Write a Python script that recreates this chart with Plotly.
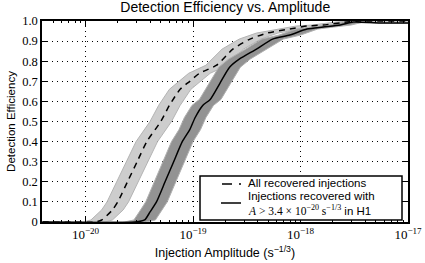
import numpy as np
import plotly.graph_objects as go

# ---- data (log10 amplitude, efficiency) ----
all_log_amp = [-20.40, -19.92, -19.85, -19.75, -19.70, -19.61, -19.52, -19.43, -19.30,
               -19.22, -19.12, -19.03, -18.94, -18.78, -18.63, -18.47, -18.31, -18.10,
               -17.94, -17.79, -17.57, -17.45, -17.00]
all_eff = [0.0, 0.0, 0.01, 0.06, 0.10, 0.20, 0.30, 0.40, 0.50,
           0.58, 0.66, 0.70, 0.74, 0.78, 0.86, 0.91, 0.94, 0.96,
           0.975, 0.98, 0.995, 1.0, 1.0]

h1_log_amp = [-20.40, -19.54, -19.45, -19.40, -19.34, -19.26, -19.18, -19.10, -19.03,
              -18.98, -18.91, -18.84, -18.75, -18.66, -18.57, -18.41, -18.26, -18.10,
              -17.94, -17.79, -17.63, -17.51, -17.26, -17.00]
h1_eff = [0.0, 0.0, 0.01, 0.05, 0.10, 0.20, 0.30, 0.40, 0.46,
          0.52, 0.58, 0.61, 0.69, 0.77, 0.81, 0.86, 0.91, 0.93,
          0.96, 0.97, 0.98, 0.995, 0.99, 0.99]

amp_uncertainty_dex = 0.10   # calibration uncertainty in amplitude (log10)

y_tick_vals = [0, 0.1, 0.2, 0.3, 0.4, 0.5, 0.6, 0.7, 0.8, 0.9, 1.0]
y_tick_text = ["0", "0.1", "0.2", "0.3", "0.4", "0.5", "0.6", "0.7", "0.8", "0.9", "1.0"]
x_tick_vals = [1e-20, 1e-19, 1e-18, 1e-17]
x_tick_text = ["10<sup>−20</sup>", "10<sup>−19</sup>", "10<sup>−18</sup>", "10<sup>−17</sup>"]

legend_all = "All recovered injections"
legend_h1_line1 = "Injections recovered with"
legend_h1_line2 = ("<span style=\"font-family:Liberation Serif\"><i>A</i> &gt; 3.4 × 10<sup>−20</sup> "
                   "s<sup>−1/3</sup></span> in H1")

SERIF = "Liberation Serif, DejaVu Serif, serif"
SANS = "Liberation Sans, Arial, sans-serif"

W, H = 425, 263
ML, MR, MT, MB = 42, 17, 21, 41
PW, PH = W - ML - MR, H - MT - MB


def px(xp):
    return (xp - ML) / PW


def py(yp):
    return (H - MB - yp) / PH


def band(log_amp, eff):
    a = np.power(10.0, np.array(log_amp))
    hi = a * 10 ** amp_uncertainty_dex
    lo = a * 10 ** (-amp_uncertainty_dex)
    x = np.concatenate([hi, lo[::-1]])
    y = np.concatenate([eff, eff[::-1]])
    return x, y


fig = go.Figure()

bx, by = band(all_log_amp, all_eff)
fig.add_trace(go.Scatter(x=bx, y=by, fill="toself", fillcolor="#cdcdcd",
                         line=dict(color="#b4b4b4", width=1), mode="lines",
                         showlegend=False, hoverinfo="skip"))
bx, by = band(h1_log_amp, h1_eff)
fig.add_trace(go.Scatter(x=bx, y=by, fill="toself", fillcolor="#939393",
                         line=dict(color="#b0b0b0", width=1), mode="lines",
                         showlegend=False, hoverinfo="skip"))

fig.add_trace(go.Scatter(x=np.power(10.0, np.array(all_log_amp)), y=all_eff, mode="lines",
                         line=dict(color="black", width=1.5, dash="6px,5px", shape="spline", smoothing=0.6),
                         showlegend=False))
fig.add_trace(go.Scatter(x=np.power(10.0, np.array(h1_log_amp)), y=h1_eff, mode="lines",
                         line=dict(color="black", width=1.5, shape="spline", smoothing=0.6),
                         showlegend=False))

# legend box drawn by hand
shapes = [
    dict(type="rect", xref="paper", yref="paper", x0=px(200), x1=px(402), y0=py(220), y1=py(176),
         fillcolor="white", line=dict(color="black", width=1.5), layer="above"),
    dict(type="line", xref="paper", yref="paper", x0=px(222), x1=px(241), y0=py(184), y1=py(184),
         line=dict(color="black", width=1.5, dash="10px,7px"), layer="above"),
    dict(type="line", xref="paper", yref="paper", x0=px(221), x1=px(241), y0=py(203), y1=py(203),
         line=dict(color="black", width=1.5), layer="above"),
]
annotations = [
    dict(text=legend_all, xref="paper", yref="paper", x=px(246), y=py(182.5), xanchor="left",
         yanchor="middle", showarrow=False, font=dict(family=SANS, size=11.5, color="black")),
    dict(text=legend_h1_line1, xref="paper", yref="paper", x=px(246), y=py(196), xanchor="left",
         yanchor="middle", showarrow=False, font=dict(family=SANS, size=11.5, color="black")),
    dict(text=legend_h1_line2, xref="paper", yref="paper", x=px(246), y=py(210), xanchor="left",
         yanchor="middle", showarrow=False, font=dict(family=SANS, size=11.5, color="black")),
]

fig.update_layout(
    width=W, height=H,
    margin=dict(l=ML, r=MR, t=MT, b=MB, autoexpand=False),
    paper_bgcolor="white", plot_bgcolor="white",
    title=dict(text="Detection Efficiency vs. Amplitude", x=0.53, xanchor="center",
               y=0.99, yanchor="top", font=dict(family=SANS, size=14, color="black")),
    showlegend=False,
    shapes=shapes, annotations=annotations,
)

fig.update_xaxes(
    type="log", range=[-20.405, -17.0], automargin=False,
    tickmode="array", tickvals=x_tick_vals, ticktext=x_tick_text,
    ticks="inside", ticklen=5, tickcolor="black", tickwidth=1,
    minor=dict(dtick="D1", ticks="inside", ticklen=2.5, tickcolor="black", showgrid=False),
    showline=True, linecolor="black", linewidth=1.5, mirror="ticks",
    showgrid=True, gridcolor="black", gridwidth=1, griddash="1px,4px",
    tickfont=dict(family=SERIF, size=13, color="black"),
    title=dict(text="Injection Amplitude (s<sup>−1/3</sup>)", standoff=7,
               font=dict(family=SANS, size=12.5, color="black")),
    zeroline=False,
)
fig.update_yaxes(
    range=[0, 1.0], automargin=False,
    tickmode="array", tickvals=y_tick_vals, ticktext=y_tick_text,
    ticks="inside", ticklen=5, tickcolor="black", tickwidth=1,
    showline=True, linecolor="black", linewidth=1.5, mirror="ticks",
    showgrid=True, gridcolor="black", gridwidth=1, griddash="1px,4px",
    tickfont=dict(family=SERIF, size=12.5, color="black"),
    title=dict(text="Detection Efficiency", standoff=4,
               font=dict(family=SANS, size=11.5, color="black")),
    zeroline=False,
)

fig.write_html("out.html", config={"displayModeBar": False},
               post_script="document.body.style.margin='0';")
